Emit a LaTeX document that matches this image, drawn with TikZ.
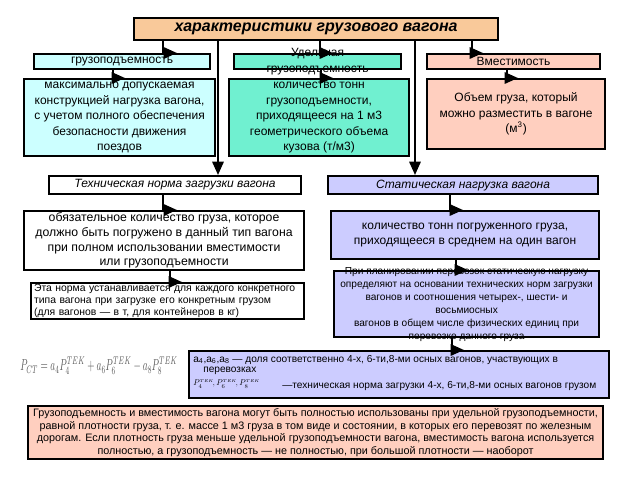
\documentclass[tikz,border=0pt]{standalone}
\usepackage{fontspec}
\setmainfont{Liberation Sans}
\usepackage{amsmath}
\usetikzlibrary{positioning}
\usetikzlibrary{calc}
\usetikzlibrary{arrows.meta}

\newcommand{\pxu}{0.75pt}
\definecolor{peach}{HTML}{F9C99A}
\definecolor{icecyan}{HTML}{CCFFFF}
\definecolor{mint}{HTML}{70F0D0}
\definecolor{salmonpale}{HTML}{FFCFBF}
\definecolor{lavend}{HTML}{CCCCFF}

\begin{document}
\begin{tikzpicture}[x=0.75pt, y=-0.75pt,
    box/.style={draw, line width=1.6pt, inner sep=0pt, anchor=north west, align=center,
        font=\fontsize{9}{11.6}\selectfont},
    elbow/.style={line width=1.6pt, -{Triangle[length=10pt,width=8.5pt]}}]

    \useasboundingbox (0,0) rectangle (640,480);

    % \node(top)[box]{...};
    \node(title)[box, fill=peach, minimum width=364*\pxu, minimum height=22*\pxu,
        font=\fontsize{12}{14}\selectfont\bfseries\itshape] at (133,17) {характеристики грузового вагона};

    \node(cap)[box, fill=icecyan, minimum width=176*\pxu, minimum height=15*\pxu] at (33,53) {грузоподъемность};
    \node(spec)[box, fill=mint, minimum width=167*\pxu, minimum height=15*\pxu,
        label={[name=specl, align=center, font=\fontsize{9}{12.5}\selectfont]center:Удельная\\грузоподъемность}] at (233,53) {};
    \node(vol)[box, fill=salmonpale, minimum width=173*\pxu, minimum height=15*\pxu] at (426,53) {Вместимость};

    \node(capd)[box, fill=icecyan, minimum width=191*\pxu, minimum height=77*\pxu,
        label={[name=capdl, align=center, font=\fontsize{9}{11.6}\selectfont]center:максимально допускаемая\\конструкцией нагрузка вагона,\\с учетом полного обеспечения\\безопасности движения\\поездов}] at (23,78) {};
    \node(specd)[box, fill=mint, minimum width=180*\pxu, minimum height=77*\pxu,
        label={[name=specdl, align=center, font=\fontsize{9}{11.6}\selectfont]center:количество тонн\\грузоподъемности,\\приходящееся на 1 м3\\геометрического объема\\кузова (т/м3)}] at (228,78) {};
    \node(vold)[box, fill=salmonpale, minimum width=178*\pxu, minimum height=70*\pxu] at (426,78)
        {Объем груза, который\\можно разместить в вагоне\\(м\textsuperscript{3})};

    \node(tech)[box, fill=white, minimum width=252*\pxu, minimum height=18*\pxu,
        font=\fontsize{9}{11}\selectfont\itshape] at (48,175) {Техническая норма загрузки вагона};
    \node(stat)[box, fill=lavend, minimum width=270*\pxu, minimum height=18*\pxu,
        font=\fontsize{9}{11}\selectfont\itshape] at (327,175) {Статическая нагрузка вагона};

    \node(techd)[box, fill=white, minimum width=280*\pxu, minimum height=59*\pxu,
        font=\fontsize{9.2}{10.9}\selectfont] at (23,210)
        {обязательное количество груза, которое\\должно быть погружено в данный тип вагона\\при полном использовании вместимости\\или грузоподъемности};
    \node(statd)[box, fill=lavend, minimum width=268*\pxu, minimum height=48*\pxu,
        font=\fontsize{9}{11.3}\selectfont] at (330,210)
        {количество тонн погруженного груза,\\приходящееся в среднем на один вагон};

    \node(technote)[box, fill=white, text width=267*\pxu, inner xsep=3*\pxu, minimum height=36*\pxu,
        align=left, font=\fontsize{7.8}{9}\selectfont] at (30,282)
        {Эта норма устанавливается для каждого конкретного\\типа вагона при загрузке его конкретным грузом\\(для вагонов — в т, для контейнеров в кг)};
    \node(statnote)[box, fill=lavend, minimum width=265*\pxu, minimum height=66*\pxu,
        label={[name=statnotel, align=center, font=\fontsize{7.6}{9.75}\selectfont]center:При планировании перевозок статическую нагрузку\\определяют на основании технических норм загрузки\\вагонов и соотношения четырех-, шести- и\\восьмиосных\\вагонов в общем числе физических единиц при\\перевозке данного груза}] at (333,270) {};

    \node(formula)[text=black!65, inner sep=0pt] at (99,366)
        {\resizebox{118pt}{10pt}{$P_{CT}=a_4P_4^{TEK}+a_6P_6^{TEK}-a_8P_8^{TEK}$}};
    \node(fbox)[box, fill=lavend, minimum width=420*\pxu, minimum height=47*\pxu] at (188,350) {};
    \node(fa)[anchor=west, inner sep=0pt, font=\fontsize{7.6}{9}\selectfont] at (193,360)
        {a\textsubscript{4},a\textsubscript{6},a\textsubscript{8} — доля соответственно 4-х, 6-ти,8-ми осных вагонов, участвующих в};
    \node(fb)[anchor=west, inner sep=0pt, font=\fontsize{7.6}{9}\selectfont] at (203,371) {перевозках};
    \node(fc)[anchor=west, inner sep=0pt] at (193,384)
        {\resizebox{50pt}{!}{$P_4^{\scriptscriptstyle TEK}\!, P_6^{\scriptscriptstyle TEK}\!, P_8^{\scriptscriptstyle TEK}$}};
    \node(fd)[anchor=west, inner sep=0pt, font=\fontsize{7.6}{9}\selectfont] at (282,386)
        {—техническая норма загрузки 4-х, 6-ти,8-ми осных вагонов грузом};

    \node(rule)[box, fill=salmonpale, minimum width=575*\pxu, minimum height=53*\pxu,
        font=\fontsize{8.1}{9.5}\selectfont] at (27,405)
        {Грузоподъемность и вместимость вагона могут быть полностью использованы при удельной грузоподъемности,\\
         равной плотности груза, т. е. массе 1 м3 груза в том виде и состоянии, в которых его перевозят по железным\\
         дорогам. Если плотность груза меньше удельной грузоподъемности вагона, вместимость вагона используется\\
         полностью, а грузоподъемность — не полностью, при большой плотности — наоборот};

    \draw[elbow] ($(title.south west)+(30,0)$) |- ($(cap.north west)+(144,0)$);
    \draw[elbow] ($(title.south west)+(187,0)$) |- ($(spec.north west)+(100,0)$);
    \draw[elbow] ($(title.south west)+(339,0)$) |- ($(vol.north west)+(57,0)$);
    \draw[elbow] ($(title.south west)+(85,0)$) -- ($(tech.north west)+(170,0)$);
    \draw[elbow] ($(title.south west)+(282,0)$) -- ($(stat.north west)+(88,0)$);

    \draw[elbow] ($(cap.south west)+(80,0)$) |- ($(capd.north west)+(102,0)$);
    \draw[elbow] ($(spec.south west)+(88,0)$) |- ($(specd.north west)+(105,0)$);
    \draw[elbow] ($(vol.south west)+(81,0)$) |- ($(vold.north west)+(92,0)$);

    \draw[elbow] ($(tech.south west)+(115,0)$) |- ($(techd.north west)+(154,0)$);
    \draw[elbow] ($(stat.south west)+(123,0)$) |- ($(statd.north west)+(133,0)$);
    \draw[elbow] ($(techd.south west)+(147,0)$) |- ($(technote.north west)+(152,0)$);
    \draw[elbow] ($(statd.south west)+(126,0)$) |- ($(statnote.north west)+(135,0)$);
    \draw[elbow] ($(statnote.south west)+(119,0)$) |- ($(fbox.north west)+(276,0)$);

\end{tikzpicture}
\end{document}
